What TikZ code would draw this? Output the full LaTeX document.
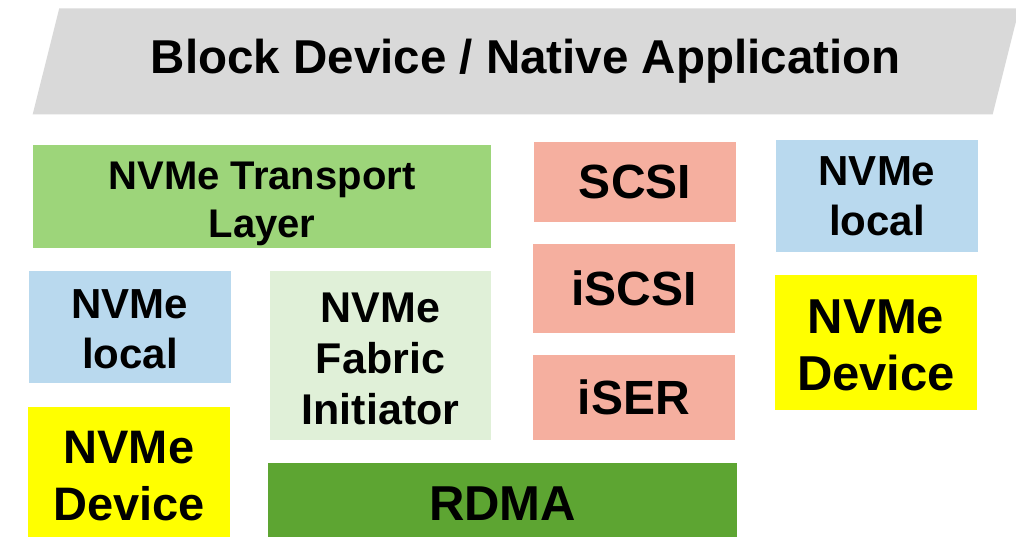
\documentclass[tikz,border=0pt]{standalone}
\usepackage{fontspec}
\setmainfont{Liberation Sans}
\definecolor{cgray}{HTML}{D9D9D9}
\definecolor{ctransport}{HTML}{9DD57A}
\definecolor{csalmon}{HTML}{F5AF9F}
\definecolor{cblue}{HTML}{B9D9EE}
\definecolor{cyellow}{HTML}{FFFF00}
\definecolor{cfabric}{HTML}{E0F0D8}
\definecolor{crdma}{HTML}{5DA532}
\newcommand{\tstrut}[1]{\rule{0pt}{#1}}
\begin{document}
\begin{tikzpicture}[x=1pt,y=-1pt,
  blk/.style={inner sep=0pt, outer sep=0pt, align=center, text=black},
  fs/.style n args={2}{font=\fontsize{#1}{#2}\selectfont\bfseries},
]
\useasboundingbox (0,0) rectangle (1016,537);
\clip (0,0) rectangle (1016,537);
\fill[white] (0,0) rectangle (1016,537);
% top banner
\fill[cgray] (59.3,8.3) -- (1019.3,8.3) -- (992.7,114.3) -- (32.7,114.3) -- cycle;
\node[blk, fs={47.5}{56}, anchor=base] (title) at (525.8,73.6) {Block Device / Native Application};
% left column
\node[blk, fs={40}{47.7}, fill=ctransport, minimum width=458pt, minimum height=102.7pt] (transport) at (262,196.3) {\tstrut{43pt}NVMe Transport\\Layer};
\node[blk, fs={42}{50}, fill=cblue, minimum width=202pt, minimum height=111.7pt] (localL) at (130,326.8) {\tstrut{33pt}NVMe\\local};
\node[blk, fs={47}{57}, fill=cyellow, minimum width=202pt, minimum height=134.7pt] (deviceL) at (129,474.3) {\tstrut{35pt}NVMe\\Device};
\node[blk, fs={43}{51}, fill=cfabric, minimum width=221pt, minimum height=168.7pt] (fabric) at (380.5,355.3) {\tstrut{36pt}NVMe\\Fabric\\Initiator};
\node[blk, fs={49}{57}, fill=crdma, minimum width=469pt, minimum height=82.3pt] (rdma) at (502.5,503.9) {RDMA};
% middle column
\node[blk, fs={48}{57}, fill=csalmon, minimum width=202pt, minimum height=79.7pt] (scsi) at (635,181.8) {SCSI};
\node[blk, fs={48}{57}, fill=csalmon, minimum width=202pt, minimum height=88.7pt] (iscsi) at (634,288.3) {iSCSI};
\node[blk, fs={48}{57}, fill=csalmon, minimum width=202pt, minimum height=84.7pt] (iser) at (634,397.3) {iSER};
% right column
\node[blk, fs={42}{50}, fill=cblue, minimum width=202pt, minimum height=111.7pt] (localR) at (877,195.8) {NVMe\\local};
\node[blk, fs={49}{57}, fill=cyellow, minimum width=202pt, minimum height=134.7pt] (deviceR) at (876,342.3) {\tstrut{39pt}NVMe\\Device};
\end{tikzpicture}
\end{document}
